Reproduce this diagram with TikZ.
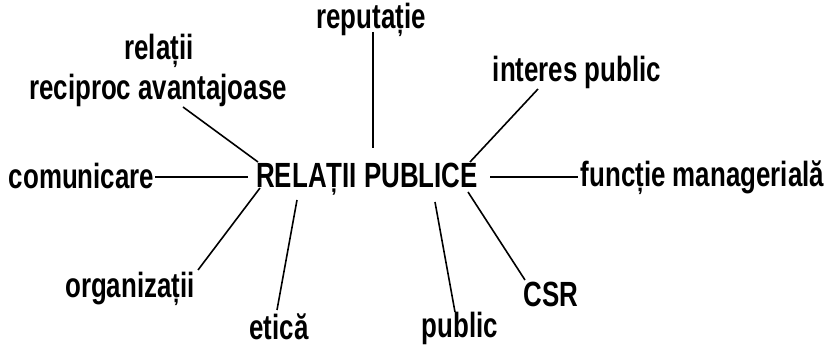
\documentclass[tikz,border=0pt]{standalone}
\usepackage{fontspec}
\setmainfont{Liberation Sans}[FakeStretch=0.74]
\begin{document}
\begin{tikzpicture}[x=1pt,y=1pt,
  lbl/.style={inner sep=0pt, anchor=base, font=\fontsize{35}{40}\selectfont\bfseries},
  link/.style={line width=1.6pt, black}]
\useasboundingbox (0,-347) rectangle (831,0);
% nodes
\node[lbl] (main) at (367,-188) {RELAȚII PUBLICE};
\node[lbl] (rep)  at (371,-29)  {reputație};
\node[lbl] (rel)  at (159,-60)  {relații};
\node[lbl] (rec)  at (158,-100) {reciproc avantajoase};
\node[lbl] (com)  at (81.5,-189) {comunicare};
\node[lbl] (int)  at (577,-82)  {interes public};
\node[lbl] (fun)  at (702.5,-187) {funcție managerială};
\node[lbl] (org)  at (130,-298) {organizații};
\node[lbl] (eti)  at (279,-340) {etică};
\node[lbl] (pub)  at (460,-338) {public};
\node[lbl] (csr)  at (551,-307) {CSR};
% connectors
\draw[link] ([shift={(25,-7)}]rec.base) -- ([shift={(-109,26)}]main.base);
\draw[link] ([shift={(73.5,12)}]com.base) -- ([shift={(-119,11)}]main.base);
\draw[link] ([shift={(2,-3)}]rep.base) -- ([shift={(6,40)}]main.base);
\draw[link] ([shift={(-39,-7)}]int.base) -- ([shift={(103,26)}]main.base);
\draw[link] ([shift={(123,11)}]main.base) -- ([shift={(-124.5,10)}]fun.base);
\draw[link] ([shift={(68,28)}]org.base) -- ([shift={(-107,0)}]main.base);
\draw[link] ([shift={(-2,30)}]eti.base) -- ([shift={(-70,-12)}]main.base);
\draw[link] ([shift={(-5,26)}]pub.base) -- ([shift={(68,-14)}]main.base);
\draw[link] ([shift={(-26,27)}]csr.base) -- ([shift={(101,-4)}]main.base);
\end{tikzpicture}
\end{document}
